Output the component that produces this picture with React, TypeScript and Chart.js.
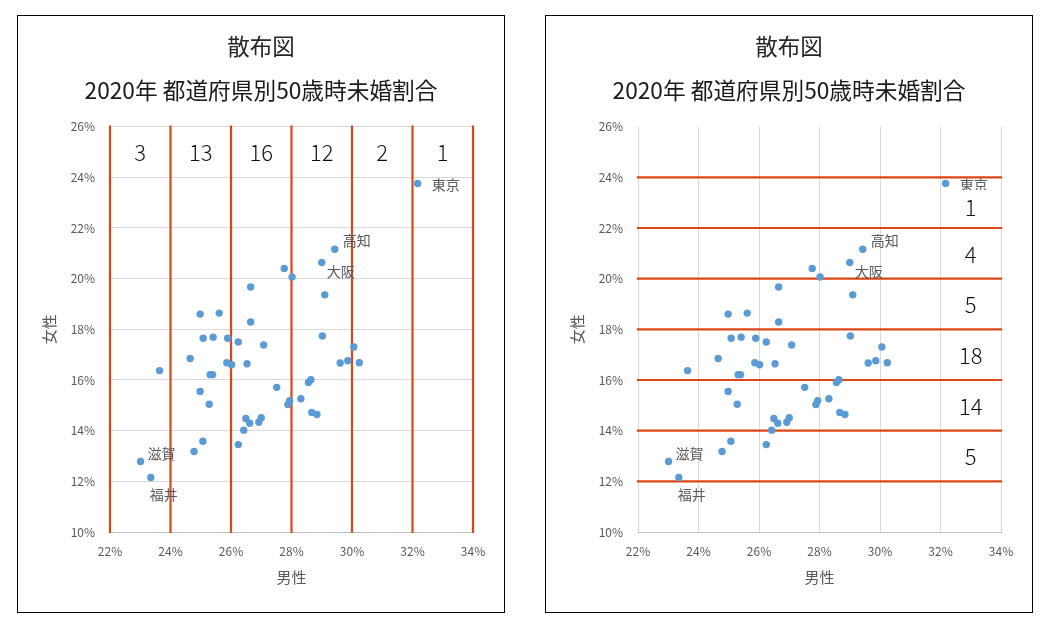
import React, { useEffect, useRef } from "react";
import { Chart, registerables } from "chart.js";

Chart.register(...registerables);

// ---- data (percent) ----
const prefNames = ["東京", "高知", "大阪", "滋賀", "福井"]; // first five points carry labels
const maleRates = [
  32.17, 29.43, 29.0, 23.01, 23.35, 27.76, 28.02, 26.65, 29.1, 24.98, 25.61, 26.65,
  25.08, 25.41, 25.89, 26.24, 27.08, 29.02, 30.06, 24.65, 23.64, 25.86, 26.02, 26.53,
  29.61, 29.86, 30.24, 25.31, 25.39, 24.98, 25.28, 27.51, 27.88, 27.94, 28.31, 28.56,
  28.64, 28.67, 28.84, 26.49, 26.62, 26.92, 27.0, 26.42, 26.24, 25.07, 24.78,
];
const femaleRates = [
  23.76, 21.16, 20.64, 12.78, 12.15, 20.4, 20.07, 19.67, 19.36, 18.6, 18.64, 18.29,
  17.65, 17.69, 17.65, 17.5, 17.38, 17.74, 17.3, 16.85, 16.37, 16.68, 16.6, 16.64,
  16.67, 16.76, 16.68, 16.21, 16.21, 15.55, 15.04, 15.71, 15.03, 15.18, 15.26, 15.9,
  16.01, 14.72, 14.64, 14.48, 14.29, 14.33, 14.51, 14.02, 13.45, 13.58, 13.18,
];
const maleBounds = [22, 24, 26, 28, 30, 32, 34];
const maleCounts = [3, 13, 16, 12, 2, 1];
const femaleBounds = [12, 14, 16, 18, 20, 22, 24];
const femaleCounts = [5, 14, 18, 5, 4, 1];
const xTickRange = [22, 34, 2];
const yTickRange = [10, 26, 2];
const countLabelY = 25; // left chart: counts row (female %)
const countLabelX = 33; // right chart: counts column (male %)
const topCountY = 22.85;

const mainTitle = "散布図";
const subTitle = "2020年 都道府県別50歳時未婚割合";
const xTitle = "男性";
const yTitle = "女性";

// ---- styles ----
const FONT = "'Noto Sans CJK JP', 'Noto Sans', sans-serif";
const ORANGE = "#DC4617";
const BLUE = "#5B9BD5";
const GRID = "#D9D9D9";
const AXIS_TEXT = "#595959";
const labelOffsets: Record<string, [number, number]> = {
  東京: [14, 1],
  高知: [8, -9],
  大阪: [5, 9],
  滋賀: [7, -8],
  福井: [-1, 17],
};

type Mode = "male" | "female";

function makePlugin(mode: Mode) {
  return {
    id: "annot-" + mode,
    afterDatasetsDraw(chart: any) {
      const { ctx, scales } = chart;
      const xs = scales.x;
      const ys = scales.y;
      ctx.save();
      // point labels
      ctx.font = `14px ${FONT}`;
      ctx.fillStyle = AXIS_TEXT;
      ctx.textAlign = "left";
      ctx.textBaseline = "middle";
      prefNames.forEach((name, i) => {
        const px = xs.getPixelForValue(maleRates[i]);
        const py = ys.getPixelForValue(femaleRates[i]);
        const [dx, dy] = labelOffsets[name];
        ctx.fillText(name, px + dx, py + dy);
      });
      // count labels
      ctx.font = `300 22px ${FONT}`;
      ctx.textAlign = "center";
      ctx.textBaseline = "middle";
      const drawCount = (c: number, cx: number, cy: number) => {
        ctx.fillStyle = "#fff";
        ctx.fillRect(cx - 18, cy - 16.5, 36, 33);
        ctx.fillStyle = "#111";
        ctx.fillText(String(c), cx, cy + 1);
      };
      if (mode === "male") {
        maleCounts.forEach((c, i) => {
          const cx = xs.getPixelForValue((maleBounds[i] + maleBounds[i + 1]) / 2);
          const cy = ys.getPixelForValue(countLabelY);
          drawCount(c, cx, cy);
        });
      } else {
        femaleCounts.forEach((c, i) => {
          const last = i === femaleCounts.length - 1;
          const yv = last ? topCountY : (femaleBounds[i] + femaleBounds[i + 1]) / 2;
          const cx = xs.getPixelForValue(countLabelX);
          const cy = ys.getPixelForValue(yv);
          drawCount(c, cx, cy);
        });
      }
      ctx.restore();
    },
  };
}

function Panel({ mode, left }: { mode: Mode; left: number }) {
  const ref = useRef<HTMLCanvasElement>(null);
  useEffect(() => {
    if (!ref.current) return;
    const points = maleRates.map((m, i) => ({ x: m, y: femaleRates[i] }));
    const lineSets =
      mode === "male"
        ? maleBounds.map((b) => ({
            data: [
              { x: b, y: yTickRange[0] },
              { x: b, y: yTickRange[1] },
            ],
          }))
        : femaleBounds.map((b) => ({
            data: [
              { x: xTickRange[0], y: b },
              { x: xTickRange[1], y: b },
            ],
          }));
    const chart = new Chart(ref.current, {
      type: "scatter",
      data: {
        datasets: [
          {
            data: points,
            backgroundColor: BLUE,
            borderColor: BLUE,
            borderWidth: 0,
            pointRadius: 3.7,
          } as any,
          ...lineSets.map((l) => ({
            data: l.data,
            showLine: true,
            borderColor: ORANGE,
            borderWidth: 2.2,
            pointRadius: 0,
            borderCapStyle: "square",
            clip: false,
          })),
        ],
      },
      options: {
        animation: false,
        responsive: true,
        maintainAspectRatio: false,
        layout: { padding: 0 },
        plugins: {
          legend: { display: false },
          tooltip: { enabled: false },
          title: {
            display: true,
            text: mainTitle,
            color: "#262626",
            font: { family: FONT, size: 22.5, weight: "normal" as any },
            padding: { top: 17.3, bottom: 0 },
          },
          subtitle: {
            display: true,
            text: subTitle,
            color: "#1a1a1a",
            font: { family: FONT, size: 22.7, weight: "normal" as any },
            padding: { top: 16.6, bottom: 22.5 },
          },
        },
        scales: {
          x: {
            type: "linear",
            min: xTickRange[0],
            max: xTickRange[1],
            ticks: {
              stepSize: xTickRange[2],
              callback: (v: any) => v + "%",
              color: AXIS_TEXT,
              font: { family: FONT, size: 12 },
              padding: 12,
              maxRotation: 0,
            },
            grid: { display: mode === "female", color: GRID, drawTicks: false, lineWidth: 1 },
            border: { display: true, color: "#BFBFBF", width: 1 },
            title: {
              display: true,
              text: xTitle,
              color: AXIS_TEXT,
              font: { family: FONT, size: 15 },
              padding: { top: 0, bottom: 25.4 },
            },
            afterFit: (s: any) => {
              s.height = 80;
            },
          },
          y: {
            type: "linear",
            min: yTickRange[0],
            max: yTickRange[1],
            ticks: {
              stepSize: yTickRange[2],
              callback: (v: any) => v + "%",
              color: AXIS_TEXT,
              font: { family: FONT, size: 12 },
              padding: 15,
            },
            grid: { display: mode === "male", color: GRID, drawTicks: false, lineWidth: 1 },
            border: { display: false },
            title: {
              display: true,
              text: yTitle,
              color: AXIS_TEXT,
              font: { family: FONT, size: 15 },
              padding: { top: 22.6, bottom: 0 },
            },
            afterFit: (s: any) => {
              s.width = 92;
            },
          },
          yRight: {
            type: "linear",
            position: "right",
            display: true,
            min: yTickRange[0],
            max: yTickRange[1],
            grid: { display: false, drawTicks: false },
            border: { display: false },
            ticks: { display: false },
            title: { display: false },
            afterFit: (s: any) => {
              s.width = 31;
            },
          },
        },
      } as any,
      plugins: [makePlugin(mode)],
    });
    return () => chart.destroy();
  }, [mode]);
  return (
    <div
      style={{
        position: "absolute",
        left,
        top: 7,
        width: 486,
        height: 596,
        border: "1px solid #000",
        background: "#fff",
      }}
    >
      <div style={{ position: "relative", width: 486, height: 596 }}>
        <canvas ref={ref} />
      </div>
    </div>
  );
}

export default function App() {
  return (
    <div style={{ position: "relative", width: 1036, height: 617 }}>
      <Panel mode="male" left={9} />
      <Panel mode="female" left={537} />
    </div>
  );
}
